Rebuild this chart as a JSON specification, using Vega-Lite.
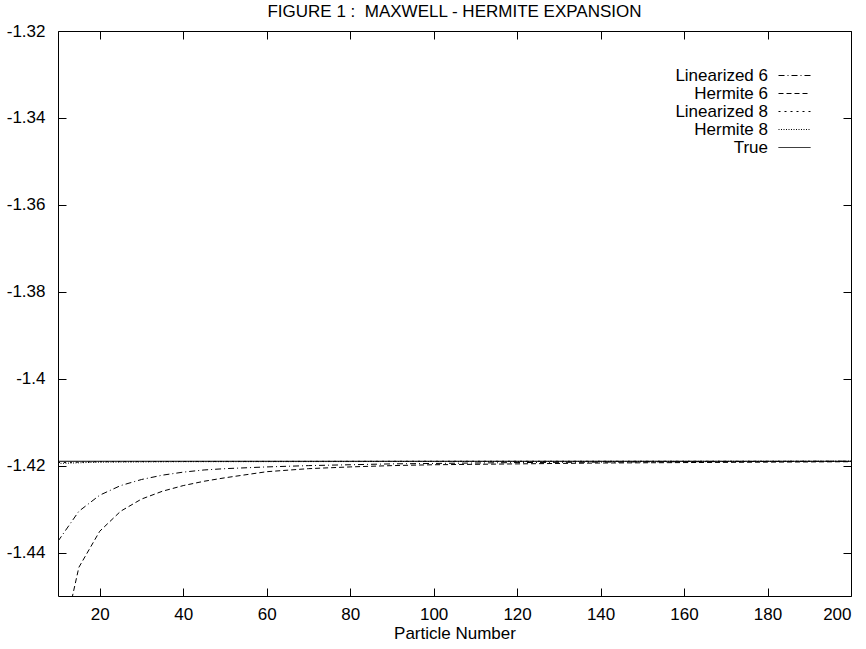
{
  "$schema": "https://vega.github.io/schema/vega-lite/v6.json",
  "width": 793,
  "height": 565,
  "autosize": {"type": "none"},
  "padding": {"left": 58, "top": 31, "right": 15, "bottom": 53},
  "background": "white",
  "title": {
    "text": "FIGURE 1 :\u00a0 MAXWELL - HERMITE EXPANSION",
    "font": "Liberation Sans",
    "fontSize": 17,
    "fontWeight": "normal",
    "color": "black",
    "anchor": "middle",
    "offset": 1
  },
  "config": {
    "view": {"stroke": "black", "strokeWidth": 1},
    "font": "Liberation Sans",
    "axis": {
      "grid": false,
      "domain": false,
      "tickColor": "black",
      "tickSize": -8,
      "tickWidth": 1,
      "labelFont": "Liberation Sans",
      "labelFontSize": 17,
      "labelColor": "black",
      "titleFont": "Liberation Sans",
      "titleFontSize": 17,
      "titleFontWeight": "normal",
      "titleColor": "black"
    },
    "legend": {
      "orient": "none",
      "legendX": 728,
      "legendY": 36,
      "labelFont": "Liberation Sans",
      "labelFontSize": 17,
      "labelColor": "black",
      "labelAlign": "right",
      "labelOffset": -35,
      "symbolType": "M-2,0H2",
      "symbolSize": 256,
      "symbolStrokeColor": "black",
      "symbolFillColor": "transparent",
      "symbolStrokeWidth": 1,
      "rowPadding": 0,
      "padding": 0,
      "title": null
    }
  },
  "data": {
    "values": [
      {"n": 10, "v": -1.4374, "s": "Linearized 6"},
      {"n": 15, "v": -1.4305, "s": "Linearized 6"},
      {"n": 20, "v": -1.4268, "s": "Linearized 6"},
      {"n": 25, "v": -1.4246, "s": "Linearized 6"},
      {"n": 30, "v": -1.4232, "s": "Linearized 6"},
      {"n": 35, "v": -1.4222, "s": "Linearized 6"},
      {"n": 40, "v": -1.4215, "s": "Linearized 6"},
      {"n": 45, "v": -1.4210, "s": "Linearized 6"},
      {"n": 50, "v": -1.4207, "s": "Linearized 6"},
      {"n": 60, "v": -1.4203, "s": "Linearized 6"},
      {"n": 70, "v": -1.4200, "s": "Linearized 6"},
      {"n": 80, "v": -1.4198, "s": "Linearized 6"},
      {"n": 90, "v": -1.4196, "s": "Linearized 6"},
      {"n": 100, "v": -1.4195, "s": "Linearized 6"},
      {"n": 120, "v": -1.4193, "s": "Linearized 6"},
      {"n": 140, "v": -1.4192, "s": "Linearized 6"},
      {"n": 160, "v": -1.4191, "s": "Linearized 6"},
      {"n": 180, "v": -1.41905, "s": "Linearized 6"},
      {"n": 200, "v": -1.4190, "s": "Linearized 6"},
      {"n": 10, "v": -1.4650, "s": "Hermite 6"},
      {"n": 15, "v": -1.4434, "s": "Hermite 6"},
      {"n": 20, "v": -1.4351, "s": "Hermite 6"},
      {"n": 25, "v": -1.4305, "s": "Hermite 6"},
      {"n": 30, "v": -1.4277, "s": "Hermite 6"},
      {"n": 35, "v": -1.4259, "s": "Hermite 6"},
      {"n": 40, "v": -1.4246, "s": "Hermite 6"},
      {"n": 45, "v": -1.4236, "s": "Hermite 6"},
      {"n": 50, "v": -1.4228, "s": "Hermite 6"},
      {"n": 60, "v": -1.4214, "s": "Hermite 6"},
      {"n": 70, "v": -1.4207, "s": "Hermite 6"},
      {"n": 80, "v": -1.4203, "s": "Hermite 6"},
      {"n": 90, "v": -1.4200, "s": "Hermite 6"},
      {"n": 100, "v": -1.4198, "s": "Hermite 6"},
      {"n": 120, "v": -1.4196, "s": "Hermite 6"},
      {"n": 140, "v": -1.4194, "s": "Hermite 6"},
      {"n": 160, "v": -1.4193, "s": "Hermite 6"},
      {"n": 180, "v": -1.4192, "s": "Hermite 6"},
      {"n": 200, "v": -1.4191, "s": "Hermite 6"},
      {"n": 10, "v": -1.4193, "s": "Linearized 8"},
      {"n": 20, "v": -1.4191, "s": "Linearized 8"},
      {"n": 40, "v": -1.41905, "s": "Linearized 8"},
      {"n": 100, "v": -1.4190, "s": "Linearized 8"},
      {"n": 200, "v": -1.4190, "s": "Linearized 8"},
      {"n": 10, "v": -1.4195, "s": "Hermite 8"},
      {"n": 20, "v": -1.4192, "s": "Hermite 8"},
      {"n": 40, "v": -1.4191, "s": "Hermite 8"},
      {"n": 100, "v": -1.41905, "s": "Hermite 8"},
      {"n": 200, "v": -1.4190, "s": "Hermite 8"},
      {"n": 10, "v": -1.4190, "s": "True"},
      {"n": 200, "v": -1.4190, "s": "True"}
    ]
  },
  "layer": [
    {
      "mark": {"type": "line", "clip": true, "strokeWidth": 1, "color": "black"},
      "encoding": {
        "x": {
          "field": "n", "type": "quantitative",
          "scale": {"domain": [10, 200], "nice": false, "zero": false},
          "axis": {"orient": "bottom", "values": [20, 40, 60, 80, 100, 120, 140, 160, 180, 200], "title": "Particle Number", "labelPadding": 18, "titlePadding": 3}
        },
        "y": {
          "field": "v", "type": "quantitative",
          "scale": {"domain": [-1.45, -1.32], "nice": false, "zero": false},
          "axis": {"orient": "left", "values": [-1.44, -1.42, -1.4, -1.38, -1.36, -1.34, -1.32], "format": "~g", "labelExpr": "replace(datum.label, '−', '-')", "title": null, "labelPadding": 21}
        },
        "strokeDash": {
          "field": "s", "type": "nominal",
          "scale": {
            "domain": ["Linearized 6", "Hermite 6", "Linearized 8", "Hermite 8", "True"],
            "range": [[6, 3, 1, 3], [5, 3], [2, 4], [1, 1.5], [1, 0]]
          },
          "legend": {}
        }
      }
    },
    {
      "mark": {"type": "line", "clip": true, "opacity": 0},
      "encoding": {
        "x": {
          "field": "n", "type": "quantitative",
          "axis": {"orient": "top", "values": [20, 40, 60, 80, 100, 120, 140, 160, 180, 200], "labels": false, "title": null}
        },
        "y": {
          "field": "v", "type": "quantitative",
          "axis": {"orient": "right", "values": [-1.44, -1.42, -1.4, -1.38, -1.36, -1.34, -1.32], "labels": false, "title": null}
        },
        "detail": {"field": "s", "type": "nominal"}
      }
    }
  ],
  "resolve": {"axis": {"x": "independent", "y": "independent"}}
}
